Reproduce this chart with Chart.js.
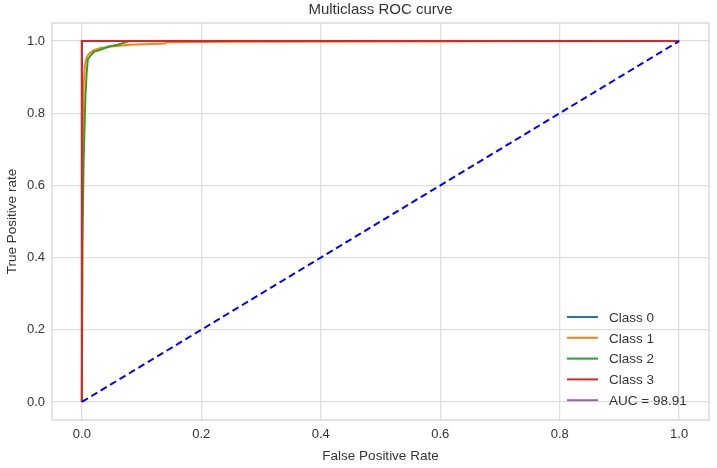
<!DOCTYPE html>
<html>
<head>
<meta charset="utf-8">
<script src="https://cdn.jsdelivr.net/npm/chart.js@4.4.1/dist/chart.umd.min.js"></script>
<style>
  html, body { margin: 0; padding: 0; background: #fff; }
  #wrap { width: 717px; height: 468px; position: relative; }
</style>
</head>
<body>
<div id="wrap"><canvas id="roc"></canvas></div>
<script>
// valeurs
const xTicks = [0, 0.2, 0.4, 0.6, 0.8, 1.0];
const yTicks = [0, 0.2, 0.4, 0.6, 0.8, 1.0];

const class0Fpr = [0, 0, 1];
const class0Tpr = [0, 1, 1];

const class1Fpr = [0, 0.001, 0.003, 0.005, 0.008, 0.012, 0.02, 0.03, 0.05, 0.08, 0.14, 0.14, 0.25, 1];
const class1Tpr = [0, 0.62, 0.88, 0.93, 0.955, 0.965, 0.975, 0.98, 0.985, 0.99, 0.993, 0.997, 0.998, 1];

const class2Fpr = [0, 0.001, 0.003, 0.005, 0.006, 0.008, 0.01, 0.015, 0.02, 0.03, 0.045, 0.06, 0.08, 1];
const class2Tpr = [0, 0.45, 0.67, 0.79, 0.85, 0.91, 0.95, 0.96, 0.97, 0.975, 0.985, 0.99, 1.0, 1.0];

const class3Fpr = [0, 0, 1];
const class3Tpr = [0, 1, 1];

const diagFpr = [0, 1];
const diagTpr = [0, 1];

const legendLabels = ['Class 0', 'Class 1', 'Class 2', 'Class 3', 'AUC = 98.91'];

const FONT = '"Liberation Sans", Arial, sans-serif';
const GRID = '#dedede';
const TEXT = '#333333';

function pts(xs, ys) {
    return xs.map((x, i) => ({ x: x, y: ys[i] }));
}

function line(label, xs, ys, color, order) {
    return {
        label: label,
        data: pts(xs, ys),
        borderColor: color,
        backgroundColor: color,
        borderWidth: 2,
        pointRadius: 0,
        showLine: true,
        tension: 0,
        order: order,
        inLegend: true
    };
}

// titre, cadre et légende dessinés à la main (style matplotlib)
const decorPlugin = {
    id: 'decor',
    afterDraw(chart) {
        const ctx = chart.ctx;
        const a = chart.chartArea;
        ctx.save();
        ctx.strokeStyle = '#d4d4d4';
        ctx.lineWidth = 1.3;
        ctx.strokeRect(a.left, a.top, a.right - a.left, a.bottom - a.top);

        ctx.fillStyle = TEXT;
        ctx.font = '15px ' + FONT;
        ctx.textAlign = 'center';
        ctx.textBaseline = 'middle';
        ctx.fillText('Multiclass ROC curve', (a.left + a.right) / 2, 10);

        const items = chart.data.datasets.filter(d => d.inLegend);
        let y = 317;
        ctx.font = '13.5px ' + FONT;
        ctx.textAlign = 'left';
        items.forEach(d => {
            ctx.strokeStyle = d.borderColor;
            ctx.lineWidth = 2;
            ctx.setLineDash([]);
            ctx.beginPath();
            ctx.moveTo(567, y);
            ctx.lineTo(598, y);
            ctx.stroke();
            ctx.fillStyle = TEXT;
            ctx.fillText(d.label, 609, y + 1);
            y += 20.8;
        });
        ctx.restore();
    }
};

const datasets = [
    line(legendLabels[0], class0Fpr, class0Tpr, '#1f77b4', 5),
    line(legendLabels[1], class1Fpr, class1Tpr, '#ff7f0e', 4),
    line(legendLabels[2], class2Fpr, class2Tpr, '#2ca02c', 3),
    line(legendLabels[3], class3Fpr, class3Tpr, '#d62728', 2),
    line(legendLabels[4], [], [], '#9467bd', 1),
    {
        label: 'diag',
        data: pts(diagFpr, diagTpr),
        borderColor: '#0000ff',
        borderWidth: 2,
        borderDash: [7, 4],
        pointRadius: 0,
        showLine: true,
        order: 0,
        inLegend: false
    }
];

new Chart(document.getElementById('roc'), {
    type: 'scatter',
    data: { datasets: datasets },
    plugins: [decorPlugin],
    options: {
        responsive: true,
        maintainAspectRatio: false,
        animation: false,
        layout: { padding: { top: 23, right: 8, left: 0, bottom: 0 } },
        plugins: {
            legend: { display: false },
            tooltip: { enabled: false },
            title: { display: false }
        },
        scales: {
            x: {
                type: 'linear',
                min: -0.05,
                max: 1.05,
                afterBuildTicks: s => { s.ticks = xTicks.map(v => ({ value: v })); },
                afterFit: s => { s.height = 48; },
                grid: { color: GRID, lineWidth: 1.3, drawTicks: false },
                border: { display: false },
                ticks: {
                    padding: 7,
                    color: TEXT,
                    font: { family: FONT, size: 13 },
                    callback: v => v.toFixed(1)
                },
                title: {
                    display: true,
                    text: 'False Positive Rate',
                    color: TEXT,
                    font: { family: FONT, size: 13.5 },
                    padding: { top: 1 }
                }
            },
            y: {
                type: 'linear',
                min: -0.05,
                max: 1.05,
                afterBuildTicks: s => { s.ticks = yTicks.map(v => ({ value: v })); },
                afterFit: s => { s.width = 52; },
                grid: { color: GRID, lineWidth: 1.3, drawTicks: false },
                border: { display: false },
                ticks: {
                    padding: 7,
                    color: TEXT,
                    font: { family: FONT, size: 13 },
                    callback: v => v.toFixed(1)
                },
                title: {
                    display: true,
                    text: 'True Positive rate',
                    color: TEXT,
                    font: { family: FONT, size: 13.5 },
                    padding: { bottom: 1 }
                }
            }
        }
    }
});
</script>
</body>
</html>
